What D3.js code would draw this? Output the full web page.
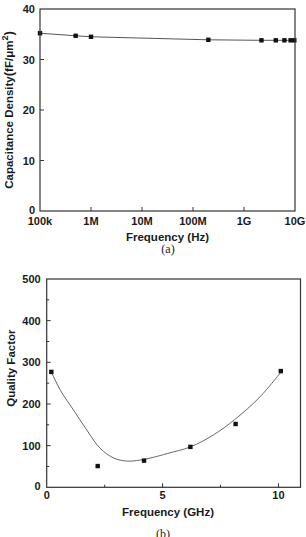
<!DOCTYPE html>
<html>
<head>
<meta charset="utf-8">
<script src="https://cdn.jsdelivr.net/npm/d3@7"></script>
<style>
  body { margin: 0; background: #fff; }
  svg { display: block; font-family: 'Liberation Sans', Arial, sans-serif; }
  .tick-label { font-size: 11px; font-weight: bold; fill: #1a1a1a; }
  .axis-title { font-size: 11.5px; font-weight: bold; fill: #1a1a1a; }
  .caption { font-family: 'Liberation Serif', 'Times New Roman', serif; font-size: 12px; fill: #222; }
</style>
</head>
<body>
<div id="chart"></div>
<script>
// (a) capacitance density vs frequency
const capFreqHz = [1e5, 5e5, 1e6, 2e8, 2.2e9, 4.2e9, 6.2e9, 8.2e9, 9.7e9]
const capDensity = [35.2, 34.7, 34.5, 33.9, 33.8, 33.8, 33.8, 33.8, 33.8]
const capXTicks = [1e5, 1e6, 1e7, 1e8, 1e9, 1e10]
const capXTickLabels = ['100k', '1M', '10M', '100M', '1G', '10G']
const capYTicks = [0, 10, 20, 30, 40]

// (b) quality factor vs frequency
const qFreqGHz = [0.2, 2.2, 4.2, 6.2, 8.15, 10.1]
const qValues = [277, 51, 64, 97, 152, 279]
// fitted trend line
const qFitFreq = [0.2, 0.6, 1.15, 1.7, 2.3, 2.9, 3.45, 4.0, 4.6, 5.2, 6.2, 7.2, 8.1, 9.2, 10.1]
const qFitValues = [277, 232, 186, 140, 94, 70, 63, 65, 72, 81, 97, 126, 162, 217, 276]
const qXTicks = [0, 5, 10]
const qXMinor = [2.5, 7.5]
const qYTicks = [0, 100, 200, 300, 400, 500]
const qYMinor = [50, 150, 250, 350, 450]

const svg = d3.select('#chart')
  .append('svg')
  .attr('width', 306)
  .attr('height', 537)

renderCapChart()
renderQChart()

function frame(g, x0, x1, y0, y1) {
  g.append('rect')
    .attr('x', x0).attr('y', y0)
    .attr('width', x1 - x0).attr('height', y1 - y0)
    .attr('fill', 'none')
    .attr('stroke', '#333')
    .attr('stroke-width', 1.2)
}

function inwardTicks(g, scale, values, axis, pos, len) {
  g.selectAll(null)
    .data(values)
    .join('line')
    .attr('x1', d => (axis === 'x' ? scale(d) : pos))
    .attr('x2', d => (axis === 'x' ? scale(d) : pos + len))
    .attr('y1', d => (axis === 'x' ? pos : scale(d)))
    .attr('y2', d => (axis === 'x' ? pos - len : scale(d)))
    .attr('stroke', '#333')
    .attr('stroke-width', 1)
}

function squares(g, xs, ys, x, y) {
  g.selectAll(null)
    .data(xs.map((d, i) => [d, ys[i]]))
    .join('rect')
    .attr('x', d => x(d[0]) - 2.2)
    .attr('y', d => y(d[1]) - 2.2)
    .attr('width', 4.4)
    .attr('height', 4.4)
    .attr('fill', '#111')
}

function renderCapChart() {
  const left = 40, right = 295, top = 9, bottom = 211
  const g = svg.append('g')

  const x = d3.scaleLog().domain([1e5, 1e10]).range([left, right])
  const y = d3.scaleLinear().domain([0, 40]).range([bottom, top])

  const line = d3.line()
    .x(d => x(d[0]))
    .y(d => y(d[1]))

  g.append('path')
    .datum(capFreqHz.map((d, i) => [d, capDensity[i]]))
    .attr('d', line)
    .attr('fill', 'none')
    .attr('stroke', '#555')
    .attr('stroke-width', 1)

  squares(g, capFreqHz, capDensity, x, y)
  frame(g, left, right, top, bottom)
  inwardTicks(g, x, capXTicks.slice(1, -1), 'x', bottom, 4)
  inwardTicks(g, y, capYTicks.slice(1, -1), 'y', left, 4)

  g.selectAll(null)
    .data(capXTicks)
    .join('text')
    .attr('class', 'tick-label')
    .attr('x', d => x(d))
    .attr('y', bottom + 13.5)
    .attr('text-anchor', 'middle')
    .text((d, i) => capXTickLabels[i])

  g.selectAll(null)
    .data(capYTicks)
    .join('text')
    .attr('class', 'tick-label')
    .attr('x', left - 5)
    .attr('y', d => y(d) + (d === 0 ? 3 : 4))
    .attr('text-anchor', 'end')
    .text(d => d)

  g.append('text')
    .attr('class', 'axis-title')
    .attr('x', (left + right) / 2)
    .attr('y', 241)
    .attr('text-anchor', 'middle')
    .text('Frequency (Hz)')

  const yTitle = g.append('text')
    .attr('class', 'axis-title')
    .attr('transform', `translate(13, ${(top + bottom) / 2}) rotate(-90)`)
    .attr('text-anchor', 'middle')
  yTitle.append('tspan').text('Capacitance Density')
  yTitle.append('tspan').attr('font-size', 13).text('(')
  yTitle.append('tspan').text('fF/μm')
  yTitle.append('tspan').attr('dy', -5).attr('font-size', 9).text('2')
  yTitle.append('tspan').attr('dy', 5).attr('font-size', 13).text(')')

  g.append('text')
    .attr('class', 'caption')
    .attr('x', 168)
    .attr('y', 253)
    .attr('text-anchor', 'middle')
    .text('(a)')
}

function renderQChart() {
  const left = 46.7, right = 300.5, top = 279, bottom = 487.3
  const g = svg.append('g')

  const x = d3.scaleLinear().domain([0, 10.95]).range([left, right])
  const y = d3.scaleLinear().domain([0, 500]).range([bottom, top])

  const fit = d3.line()
    .x(d => x(d[0]))
    .y(d => y(d[1]))
    .curve(d3.curveCatmullRom.alpha(0.5))

  g.append('path')
    .datum(qFitFreq.map((d, i) => [d, qFitValues[i]]))
    .attr('d', fit)
    .attr('fill', 'none')
    .attr('stroke', '#666')
    .attr('stroke-width', 1)

  squares(g, qFreqGHz, qValues, x, y)
  frame(g, left, right, top, bottom)
  inwardTicks(g, x, qXTicks.slice(1), 'x', bottom, 4)
  inwardTicks(g, x, qXMinor, 'x', bottom, 2.5)
  inwardTicks(g, y, qYTicks.slice(1, -1), 'y', left, 4)
  inwardTicks(g, y, qYMinor, 'y', left, 2.5)

  g.selectAll(null)
    .data(qXTicks)
    .join('text')
    .attr('class', 'tick-label')
    .attr('x', d => x(d))
    .attr('y', bottom + 12)
    .attr('text-anchor', 'middle')
    .text(d => d)

  g.selectAll(null)
    .data(qYTicks)
    .join('text')
    .attr('class', 'tick-label')
    .attr('x', left - 6)
    .attr('y', d => y(d) + (d === 0 ? 3 : 4))
    .attr('text-anchor', 'end')
    .text(d => d)

  g.append('text')
    .attr('class', 'axis-title')
    .attr('x', 168)
    .attr('y', 516)
    .attr('text-anchor', 'middle')
    .text('Frequency (GHz)')

  g.append('text')
    .attr('class', 'axis-title')
    .attr('transform', `translate(15, ${(top + bottom) / 2 - 15}) rotate(-90)`)
    .attr('text-anchor', 'middle')
    .text('Quality Factor')

  g.append('text')
    .attr('class', 'caption')
    .attr('x', 163)
    .attr('y', 538)
    .attr('text-anchor', 'middle')
    .text('(b)')
}
</script>
</body>
</html>
